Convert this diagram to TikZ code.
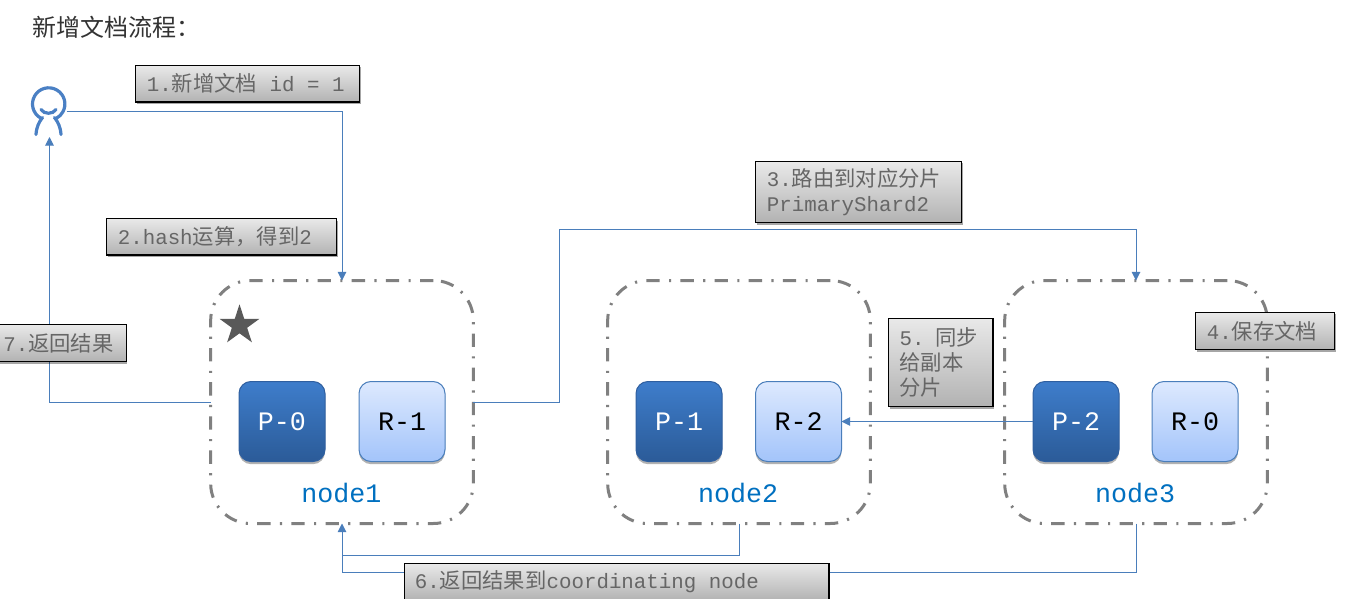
\documentclass[tikz,border=0pt]{standalone}
\usepackage{fontspec}
\setmonofont{Liberation Mono}
\newfontfamily\cjk{Noto Sans CJK SC}
\usetikzlibrary{arrows.meta,shadows,shapes.geometric}
\newcommand{\zh}[1]{{\cjk\fontsize{16pt}{18.9pt}\selectfont #1}}
\newcommand{\msp}{\spaceskip=.6em\relax}
\definecolor{linkblue}{HTML}{4A7EBB}
\definecolor{cPborder}{HTML}{2F5F9F}
\definecolor{cPtop}{HTML}{3E7DCB}
\definecolor{cPbot}{HTML}{2B5B98}
\definecolor{cRtop}{HTML}{DDE9FE}
\definecolor{cRbot}{HTML}{A3C4FA}
\definecolor{cName}{HTML}{0070C0}
\definecolor{cNtop}{HTML}{E9E9E9}
\definecolor{cNbot}{HTML}{B2B2B2}
\definecolor{cUser}{HTML}{4A80C4}
\definecolor{cStar}{HTML}{595959}
\definecolor{cTitle}{HTML}{333333}
\tikzset{
  lnk/.style={draw=linkblue,line width=0.75pt},
  arr/.style={lnk,-{Triangle[length=6.5pt,width=6.5pt]}},
  nodebox/.style={draw=black!50,line width=2.25pt,rounded corners=30pt,
    dash pattern=on 10pt off 7pt on 1.6pt off 7pt,minimum width=197pt,minimum height=182.25pt,inner sep=0pt,outer sep=0pt},
  shard/.style={rounded corners=9pt,minimum width=64.5pt,minimum height=60pt,inner sep=0pt,outer sep=0pt,line width=0.75pt,
    font=\ttfamily\fontsize{20pt}{24pt}\selectfont,
    drop shadow={shadow xshift=0pt,shadow yshift=-2pt,opacity=.3,fill=black}},
  pshard/.style={shard,draw=cPborder,top color=cPtop,bottom color=cPbot,text=white},
  rshard/.style={shard,draw=linkblue,top color=cRtop,bottom color=cRbot,text=black},
  nodename/.style={text=cName,font=\ttfamily\fontsize{20pt}{24pt}\selectfont,inner sep=0pt},
  notebox/.style={draw=black,line width=0.9pt,top color=cNtop,bottom color=cNbot,text=black!60,
    align=left,inner xsep=8.5pt,inner ysep=0pt,outer sep=0pt,anchor=north west,
    font=\ttfamily\fontsize{15.6pt}{18.9pt}\selectfont,
    drop shadow={shadow xshift=1pt,shadow yshift=-1.5pt,opacity=.35,fill=black}},
  person/.style={draw=cUser,line width=2.4pt,line cap=round},
}
\begin{document}
\begin{tikzpicture}[x=0.75pt,y=-0.75pt]
\clip (0,0) rectangle (1360,599);
\fill[white] (0,0) rectangle (1360,599);

\node[anchor=west,inner sep=0pt,text=cTitle,font=\cjk\fontsize{18pt}{22pt}\selectfont] (title) at (32.5,27) {新增文档流程：};

% user
\node[minimum width=25.5pt,minimum height=38.25pt,inner sep=0pt,outer sep=0pt] (user) at (49.5,111.5) {};
\draw[person] (48.7,104) ++(120:16.2) arc[start angle=120,end angle=420,radius=16.2];
\draw[person] (41,109.5) .. controls (44,114.5) and (53,114.5) .. (56,109.5);
\draw[person] (36,134.5) .. controls (36.5,127) and (39,122) .. (42.5,117.5);
\draw[person] (61,134.5) .. controls (60.5,127) and (58,122) .. (54.5,117.5);

% containers
\node[nodebox] (node1) at (342,402) {};
\node[nodebox] (node2) at (739,402) {};
\node[nodebox] (node3) at (1136,402) {};

\node[star,star points=5,star point ratio=2.618,fill=cStar,minimum size=31.5pt,inner sep=0pt,outer sep=0pt] (mark) at (239.5,325.3) {};

\node[pshard] (p0) at (282,421.5) {P-0};
\node[rshard] (r1) at (402,421.5) {R-1};
\node[pshard] (p1) at (679,421.5) {P-1};
\node[rshard] (r2) at (798.5,421.5) {R-2};
\node[pshard] (p2) at (1076,421.5) {P-2};
\node[rshard] (r0) at (1195,421.5) {R-0};

\node[nodename] (n1) at (341.5,493) {node1};
\node[nodename] (n2) at (738,493) {node2};
\node[nodename] (n3) at (1135,493) {node3};

% connectors
\draw[arr] (user.east) -| (node1.north);
\draw[arr] (node1.west) -| (user.south);
\coordinate (v1) at (559.5,229.5);
\draw[arr] (node1.east) -| (v1) -| (node3.north);
\draw[arr] (p2.west) -- (r2.east);
\coordinate (v2) at (342,555.5);
\coordinate (v3) at (342,572.5);
\draw[lnk] (node2.south) |- (v2);
\draw[arr] (node3.south) |- (v3) -- (node1.south);

% notes
\node[notebox,text width=151pt,minimum height=27.4pt] (s1) at (135.5,65.5) {\msp 1.\zh{新增文档} id = 1};
\node[notebox,text width=155.5pt,minimum height=27.4pt] (s2) at (106.5,218.5) {2.hash\zh{运算，得到}2};
\node[notebox,text width=137.5pt,minimum height=46pt] (s3) at (755.5,161.5) {3.\zh{路由到对应分片}\\PrimaryShard2};
\node[notebox,text width=87.5pt,minimum height=28pt] (s4) at (1195.5,312.3) {4.\zh{保存文档}};
\node[notebox,text width=61.5pt,minimum height=66.3pt] (s5) at (888.3,318.3) {\msp 5. \zh{同步}\\\zh{给副本}\\\zh{分片}};
\node[notebox,text width=85.1pt,minimum height=28pt,inner xsep=7pt] (s7) at (-6,324.3) {7.\zh{返回结果}};
\node[notebox,text width=302.5pt,minimum height=28pt,inner xsep=8pt] (s6) at (404.3,563.3) {\msp 6.\zh{返回结果到}coordinating node};
\end{tikzpicture}
\end{document}
